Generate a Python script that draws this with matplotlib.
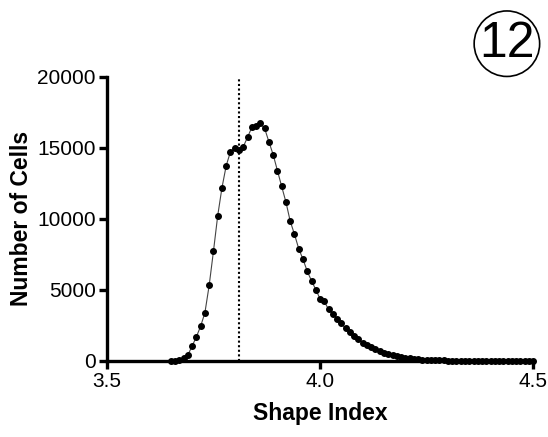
import numpy as np
import matplotlib
matplotlib.use("Agg")
import matplotlib.pyplot as plt

plt.rcParams['font.family'] = ['Liberation Sans', 'DejaVu Sans']

# histogram of shape index, bins of 0.01 starting at 3.65
bin_start = 3.65
bin_width = 0.01
counts = [
    10, 30, 80, 200, 420, 1050, 1700, 2450, 3400, 5330,
    7720, 10230, 12200, 13760, 14740, 14980, 14860, 15090, 15750, 16450,
    16520, 16730, 16380, 15440, 14530, 13410, 12290, 11190, 9850, 8920,
    7910, 7160, 6320, 5640, 5030, 4380, 4190, 3630, 3300, 2970,
    2640, 2290, 2040, 1760, 1520, 1290, 1100, 960, 820, 680,
    560, 490, 400, 330, 270, 220, 180, 150, 120, 100,
    80, 65, 55, 45, 38, 32, 27, 23, 20, 17,
    15, 13, 11, 10, 9, 8, 7, 6, 5, 5,
    4, 4, 3, 3, 3, 2,
]
shape_index = bin_start + bin_width * np.arange(len(counts))
p0 = 3.81

x_ticks = [3.5, 4.0, 4.5]
y_ticks = [0, 5000, 10000, 15000, 20000]

fig = plt.figure(figsize=(5.48, 4.37), dpi=100)
ax = fig.add_axes([0.195, 0.174, 0.778, 0.65])

ax.plot(shape_index, counts, color='#444444', lw=0.8, marker='o',
        markersize=4, markerfacecolor='black', markeredgecolor='black',
        clip_on=False, zorder=3)
ax.plot([p0, p0], [0, 20000], color='black', lw=1.5, linestyle=(0, (1, 1.2)))

ax.set_xlim(3.5, 4.5)
ax.set_ylim(0, 20000)
ax.set_xticks(x_ticks)
ax.set_xticklabels(['3.5', '4.0', '4.5'])
ax.set_yticks(y_ticks)
ax.set_yticklabels([str(v) for v in y_ticks])

for side in ['top', 'right']:
    ax.spines[side].set_visible(False)
for side in ['left', 'bottom']:
    ax.spines[side].set_linewidth(2.4)
ax.tick_params(direction='out', length=6, width=2.4, labelsize=15, pad=2)

ax.set_xlabel('Shape Index', fontsize=16.5, fontweight='bold', labelpad=8)
ax.set_ylabel('Number of Cells', fontsize=16.5, fontweight='bold', labelpad=3)

fig.text(0.925, 0.9, '12', fontsize=36, ha='center', va='center',
         bbox=dict(boxstyle='circle,pad=0.1', fc='white', ec='black', lw=1.2))

fig.savefig('out.png', dpi=100)
